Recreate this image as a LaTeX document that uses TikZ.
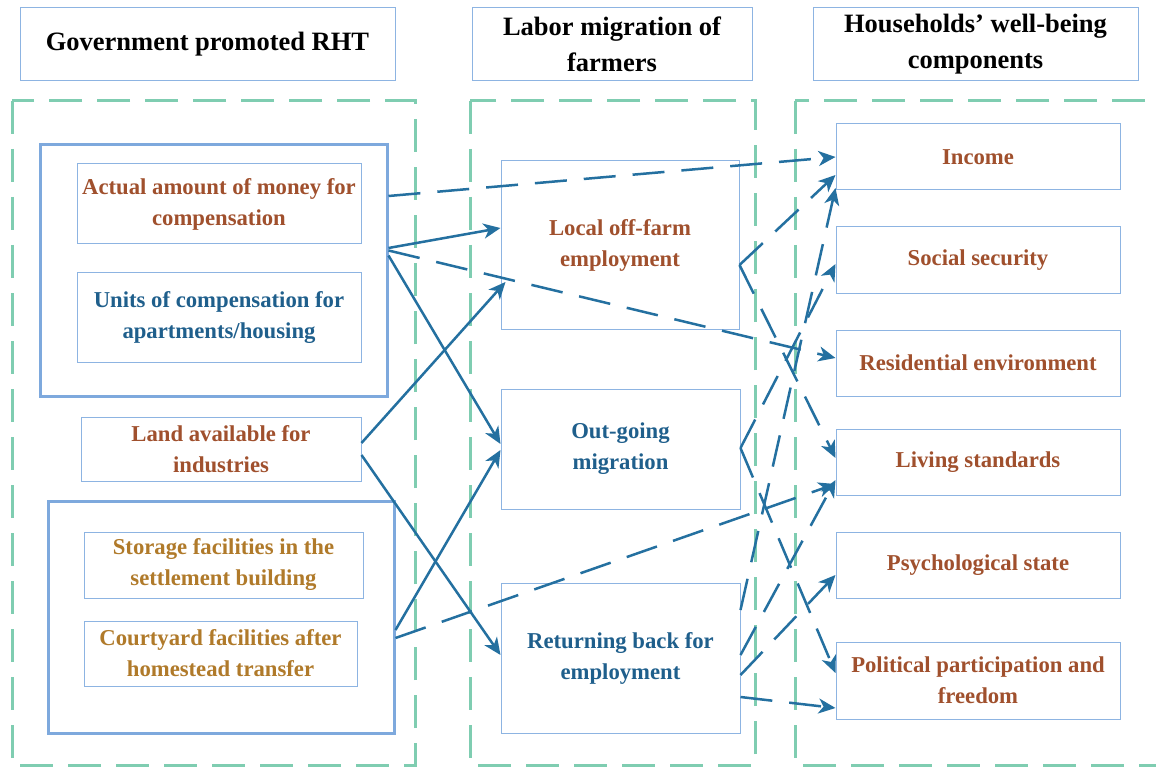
\documentclass[tikz,border=0pt]{standalone}
\usepackage{fontspec}
\setmainfont{Liberation Serif}
\usetikzlibrary{arrows.meta}
\definecolor{boxblue}{HTML}{8DB4E2}
\definecolor{grpblue}{HTML}{7EA9DD}
\definecolor{dgreen}{HTML}{7FCDB1}
\definecolor{arrowblue}{HTML}{2470A0}
\definecolor{tbrown}{HTML}{A0502D}
\definecolor{tblue}{HTML}{1F5F8C}
\definecolor{tgold}{HTML}{B07A2A}
\begin{document}
\begin{tikzpicture}[x=1pt,y=-1pt,
 hdr/.style={draw=boxblue,line width=1pt,align=center,font=\fontsize{26.5}{36}\selectfont\bfseries,inner sep=0pt},
 bx/.style={draw=boxblue,line width=1pt,align=center,font=\fontsize{22.7}{31}\selectfont\bfseries,inner sep=0pt},
 rbx/.style={bx,text=tbrown,minimum width=284pt,minimum height=66pt},
 grp/.style={draw=grpblue,line width=3pt,inner sep=0pt},
 zone/.style={draw=dgreen,line width=3pt,dash pattern=on 33pt off 15pt},
 conn/.style={draw=arrowblue,line width=2.5pt,-{Stealth[length=17pt,width=15pt,inset=5pt]}},
 dconn/.style={conn,dash pattern=on 32pt off 17pt},
]
\useasboundingbox (0,0) rectangle (1156,767);
\clip (0,0) rectangle (1156,767);
\fill[white] (0,0) rectangle (1156,767);

% zones
\draw[zone] (12,101) rectangle (415,765);
\draw[zone] (470,101) rectangle (755,765);
\draw[zone] (795,101) rectangle (1170,765);

% headers
\node[hdr,minimum width=375pt,minimum height=73pt] (h1) at (207.5,44.5) {Government promoted RHT};
\node[hdr,minimum width=280pt,minimum height=73pt] (h2) at (612,44.5) {Labor migration of\\farmers};
\node[hdr,minimum width=325pt,minimum height=73pt] (h3) at (975.5,44.5) {Households’ well-being\\components};

% left column
\node[grp,minimum width=347pt,minimum height=251pt] (grpA) at (213.5,270.5) {};
\node[bx,text=tbrown,minimum width=284pt,minimum height=80pt] (actual) at (219,204) {Actual amount of money for\\compensation};
\node[bx,text=tblue,minimum width=284pt,minimum height=89pt] (units) at (219,317.5) {Units of compensation for\\apartments/housing};
\node[bx,text=tbrown,minimum width=280pt,minimum height=64pt] (land) at (221,449) {Land available for\\industries};
\node[grp,minimum width=346pt,minimum height=232pt] (grpB) at (221,617) {};
\node[bx,text=tgold,minimum width=279pt,minimum height=66pt] (storage) at (223.5,565) {Storage facilities in the\\settlement building};
\node[bx,text=tgold,minimum width=273pt,minimum height=65pt] (court) at (220.5,653.5) {Courtyard facilities after\\homestead transfer};

% middle column
\node[bx,text=tbrown,minimum width=238pt,minimum height=168pt] (local) at (620,245) {Local off-farm\\employment};
\node[bx,text=tblue,minimum width=239pt,minimum height=120pt] (outgoing) at (620.5,449) {Out-going\\migration};
\node[bx,text=tblue,minimum width=239pt,minimum height=150pt] (returning) at (620.5,658) {Returning back for\\employment};

% right column
\node[rbx] (income) at (978,157) {Income};
\node[rbx] (social) at (978,260) {Social security};
\node[rbx] (resid) at (978,363) {Residential environment};
\node[rbx] (living) at (978,462) {Living standards};
\node[rbx] (psych) at (978,565) {Psychological state};
\node[rbx,minimum height=77pt] (polit) at (978,680.5) {Political participation and\\freedom};

% left -> middle / right
\draw[dconn] ([yshift=74.5pt]grpA.east) -- (income.west);
\draw[conn] ([yshift=22.5pt]grpA.east) -- ([yshift=17pt]local.west);
\draw[dconn] ([yshift=20pt]grpA.east) -- ([yshift=5pt]resid.west);
\draw[conn] ([yshift=15pt]grpA.east) -- ([yshift=5pt]outgoing.west);
\draw[conn] ([yshift=6pt]land.east) -- ([xshift=5pt,yshift=-37pt]local.west);
\draw[conn] ([yshift=-6pt]land.east) -- ([yshift=3pt]returning.west);
\draw[conn] ([yshift=-13pt]grpB.east) -- ([yshift=-1pt]outgoing.west);
\draw[dconn] ([yshift=-21pt]grpB.east) -- ([yshift=-22pt]living.west);

% middle -> right
\draw[dconn] ([yshift=-20pt]local.east) -- ([yshift=-18pt]income.west);
\draw[dconn] ([yshift=-20pt]local.east) -- ([yshift=4pt]living.west);
\draw[dconn] ([yshift=1pt]outgoing.east) -- ([yshift=-4pt]social.west);
\draw[dconn] ([yshift=1pt]outgoing.east) -- ([yshift=7.5pt]polit.west);
\draw[dconn] ([yshift=48pt]returning.east) -- ([yshift=-31pt]income.west);
\draw[dconn] ([yshift=3pt]returning.east) -- ([yshift=-18pt]living.west);
\draw[dconn] ([yshift=-17pt]returning.east) -- ([yshift=-10pt]psych.west);
\draw[dconn] ([yshift=-39pt]returning.east) -- ([yshift=-27.5pt]polit.west);
\end{tikzpicture}
\end{document}
